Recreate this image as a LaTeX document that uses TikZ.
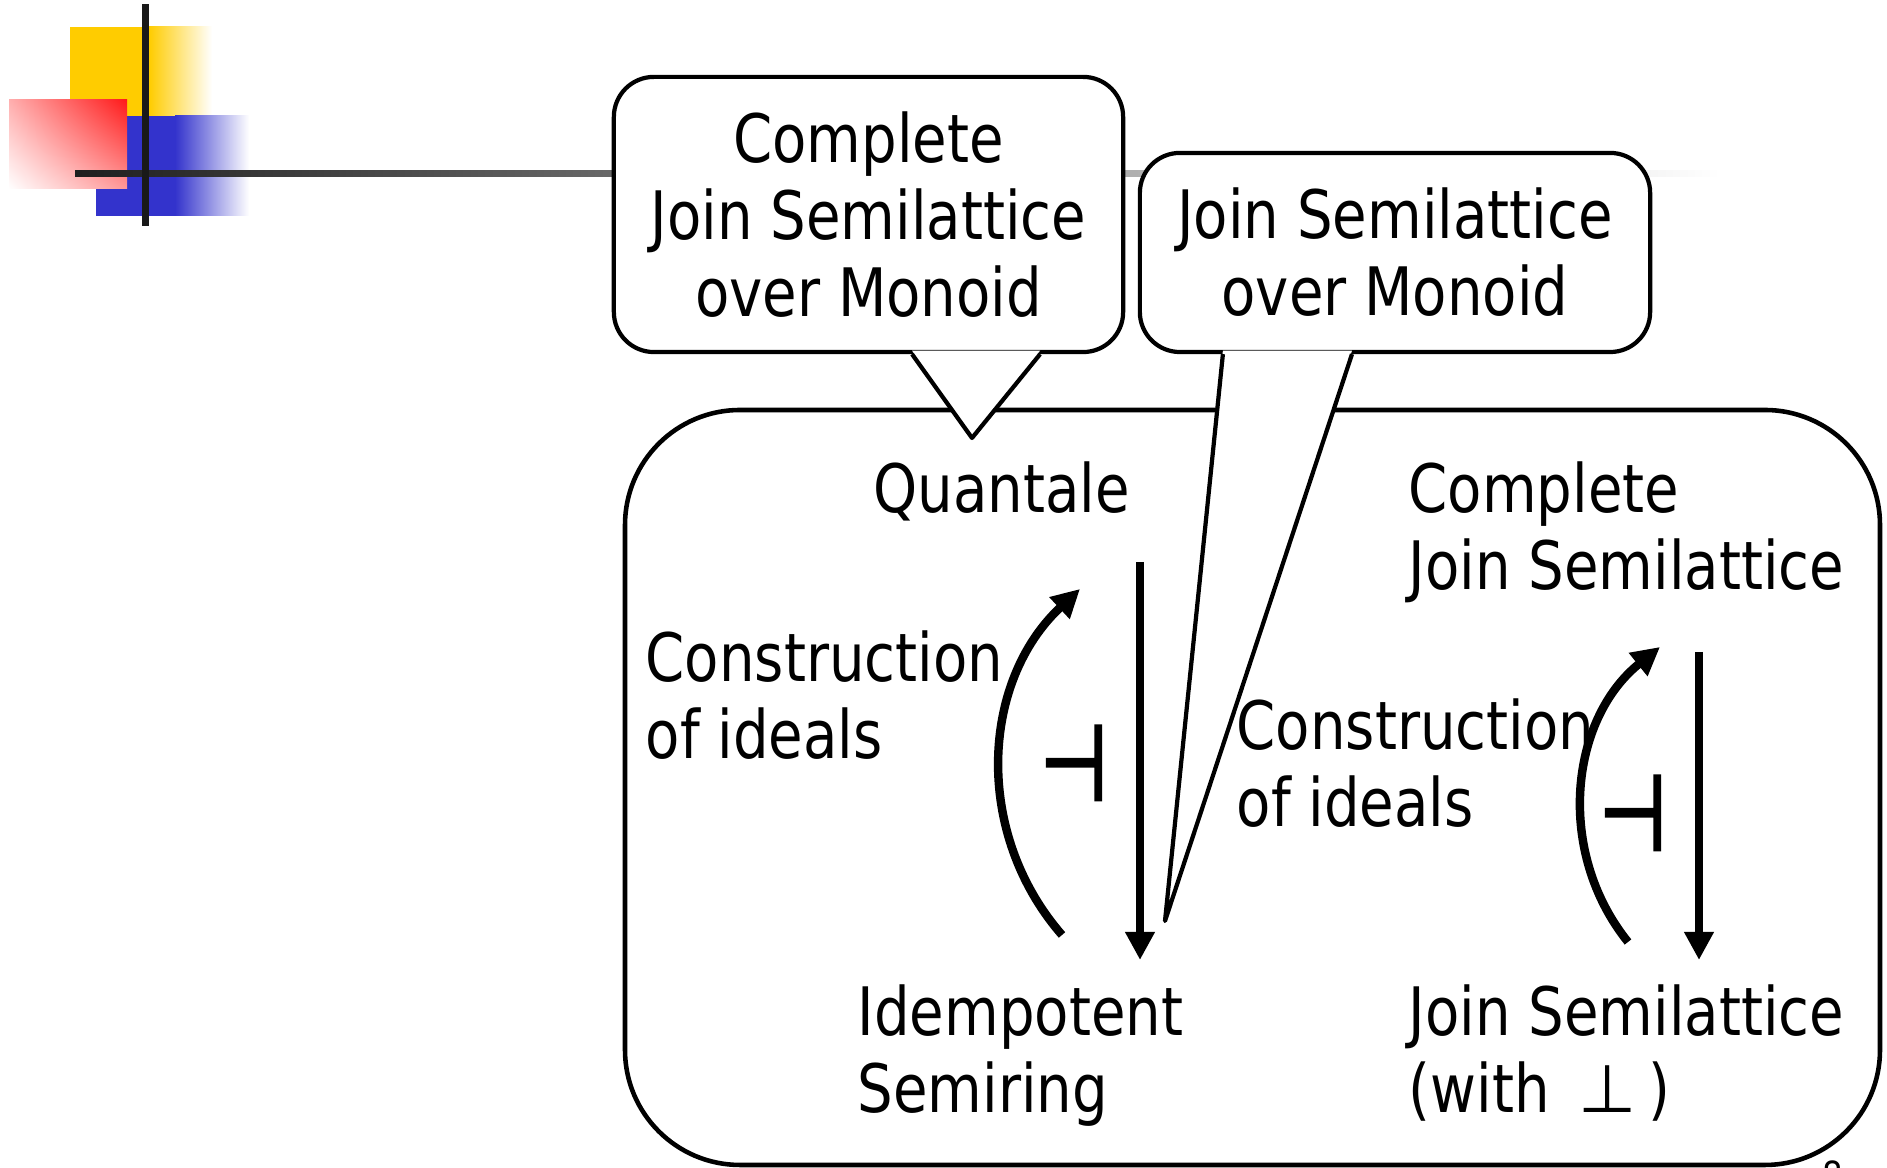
\documentclass[tikz,border=0pt]{standalone}
\usepackage{fontspec}
\setmainfont[FakeStretch=0.84]{DejaVu Sans}
\newfontfamily\symfont{DejaVu Sans}
\newfontfamily\adjfont[FakeStretch=0.72,FakeBold=3]{DejaVu Sans}
\usetikzlibrary{arrows.meta,positioning,shadings}

\definecolor{decoyellow}{HTML}{FFCC00}
\definecolor{decoblue}{HTML}{3333CC}
\definecolor{decored}{HTML}{FF1A1A}

\tikzset{
  lbl/.style={inner sep=0pt, font=\fontsize{19pt}{21.9pt}\selectfont, align=left},
  bubble/.style={draw, fill=white, line width=1.2pt, rounded corners=0.4cm,
    inner sep=0pt, align=center, font=\fontsize{19pt}{21.9pt}\selectfont},
  beak/.style={line width=1.2pt, line join=round},
  adjarrow/.style={line width=2.4pt, -{Triangle[width=8pt,length=8pt]}},
  adjsym/.style={inner sep=0pt, font=\adjfont\fontsize{30pt}{30pt}\selectfont},
}

\begin{document}
\begin{tikzpicture}[x=0.01cm, y=0.01cm]
\useasboundingbox (0,0) rectangle (1887,1168);

% slide decoration
\fill[decoyellow] (70,1052) rectangle (149,1141);
\shade[left color=decoyellow, right color=white] (149,1052) rectangle (212,1141);
\fill[decoblue] (96,952) rectangle (175,1052);
\shade[left color=decoblue, right color=white] (175,952) rectangle (249,1052);
\shade[upper right=decored, lower left=white, upper left=decored!35!white,
  lower right=decored!45!white] (9,979) rectangle (127,1068);
\shade[left color=black!88, right color=white] (75,991) rectangle (1720,997);
\fill[black!90] (141.5,942) rectangle (148.5,1164);

% frame
\draw[line width=1.3pt, rounded corners=1.15cm] (625,3) rectangle (1880,758);

% callouts
\node[bubble, minimum width=5.09cm, minimum height=2.75cm] (co1) at (868.5,953.5)
  {Complete\\Join Semilattice\\over Monoid};
\node[bubble, minimum width=5.10cm, minimum height=1.99cm] (co2) at (1395,915.5)
  {Join Semilattice\\over Monoid};
\coordinate (tip1) at (972,730);
\coordinate (tip2) at (1165,247);
\fill[white] ([xshift=0.435cm,yshift=1pt]co1.south) -- (tip1) -- ([xshift=1.715cm,yshift=1pt]co1.south) -- cycle;
\draw[beak] ([xshift=0.435cm]co1.south) -- (tip1) -- ([xshift=1.715cm]co1.south);
\fill[white] ([xshift=-1.72cm,yshift=1pt]co2.south) -- (tip2) -- ([xshift=-0.43cm,yshift=1pt]co2.south) -- cycle;
\draw[beak] ([xshift=-1.72cm]co2.south) -- (tip2) -- ([xshift=-0.43cm]co2.south);

% objects (base = last line)
\node[lbl, anchor=base west] (quantale) at (873,655) {Quantale};
\node[lbl, anchor=base west] (cjsl) at (1408,578) {Complete\\Join Semilattice};
\node[lbl, anchor=base west] (idem) at (857,55) {Idempotent\\Semiring};
\node[lbl, anchor=base west] (jsl) at (1408,55) {Join Semilattice\\(with \,{\symfont ⊥}\,)};
\node[lbl, anchor=base west] (consL) at (645,409) {Construction\\of ideals};
\node[lbl, anchor=base west] (consR) at (1236,341) {Construction\\of ideals};

% adjunctions
\coordinate (qdown) at (1140,606);
\coordinate (idown) at (1140,208);
\coordinate (iup) at (1062,233);
\coordinate (qup) at (1080,579);
\coordinate (cdown) at (1699,516);
\coordinate (jdown) at (1699,208);
\coordinate (jup) at (1628,226);
\coordinate (cup) at (1660,521);
\draw[adjarrow] (qdown) -- (idown);
\draw[adjarrow] (iup) to[bend left=44] (qup);
\draw[adjarrow] (cdown) -- (jdown);
\draw[adjarrow] (jup) to[bend left=45] (cup);
\node[adjsym] (adjL) at (1074,405) {⊣};
\node[adjsym] (adjR) at (1633,355) {⊣};

\node[anchor=north, inner sep=0pt, font=\fontsize{11pt}{13pt}\selectfont] (pgnum) at (1833,8) {8};
\end{tikzpicture}
\end{document}
